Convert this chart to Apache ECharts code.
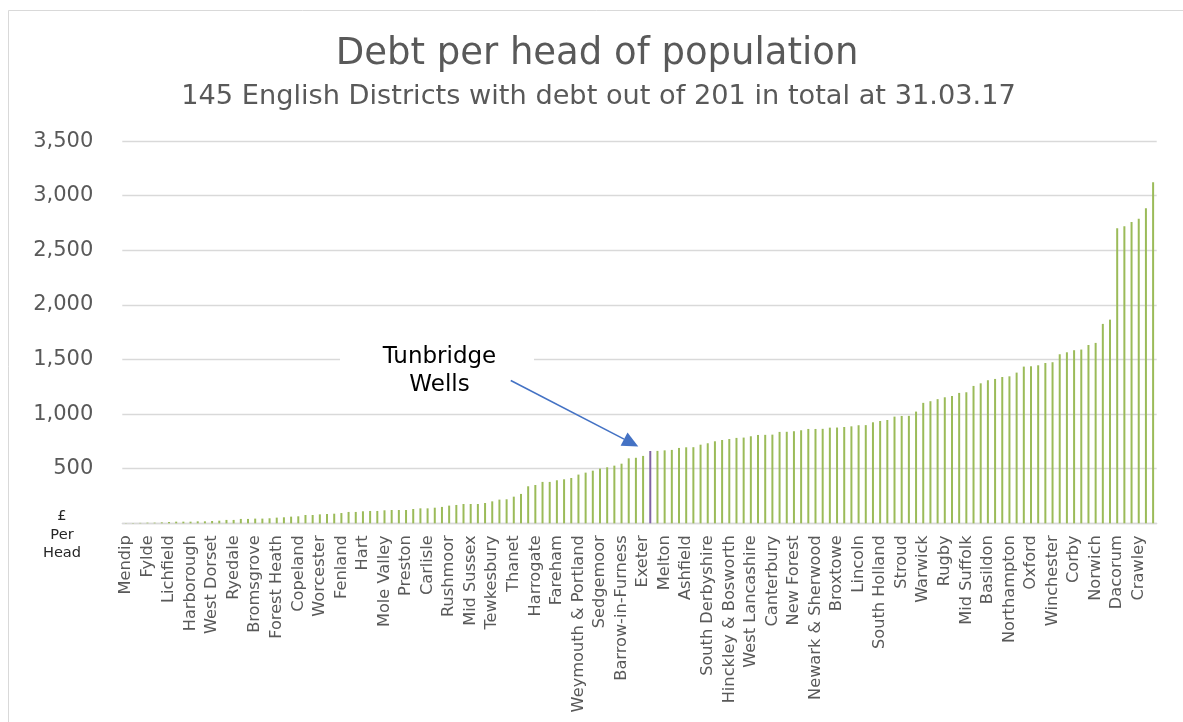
<!DOCTYPE html>
<html>
<head>
<meta charset="utf-8">
<script src="https://cdn.jsdelivr.net/npm/echarts@6/dist/echarts.min.js"></script>
<style>
  html, body { margin: 0; padding: 0; background: #ffffff; }
  #chart { width: 1183px; height: 722px; }
</style>
</head>
<body>
<div id="chart"></div>
<script>
// Districts named on the axis (every third district, in ascending order of debt)
const labelledDistricts = [
  'Mendip', 'Fylde', 'Lichfield', 'Harborough', 'West Dorset', 'Ryedale',
  'Bromsgrove', 'Forest Heath', 'Copeland', 'Worcester', 'Fenland', 'Hart',
  'Mole Valley', 'Preston', 'Carlisle', 'Rushmoor', 'Mid Sussex', 'Tewkesbury',
  'Thanet', 'Harrogate', 'Fareham', 'Weymouth & Portland', 'Sedgemoor', 'Barrow-in-Furness',
  'Exeter', 'Melton', 'Ashfield', 'South Derbyshire', 'Hinckley & Bosworth', 'West Lancashire',
  'Canterbury', 'New Forest', 'Newark & Sherwood', 'Broxtowe', 'Lincoln', 'South Holland',
  'Stroud', 'Warwick', 'Rugby', 'Mid Suffolk', 'Basildon', 'Northampton',
  'Oxford', 'Winchester', 'Corby', 'Norwich', 'Dacorum', 'Crawley'
];

// Debt per head (£) for each district, sorted ascending
const debtPerHead = [
  2, 3, 4, 6, 6, 9, 12, 15, 15, 15, 18, 18,
  21, 24, 31, 31, 40, 40, 43, 43, 46, 52, 55, 61,
  64, 76, 76, 82, 85, 88, 94, 104, 104, 110, 113, 113,
  119, 122, 122, 122, 131, 137, 137, 143, 150, 162, 168, 177,
  177, 177, 186, 201, 217, 220, 244, 269, 339, 351, 379, 379,
  394, 403, 415, 446, 464, 482, 501, 513, 528, 546, 595, 600,
  617, 662, 663, 668, 672, 690, 696, 697, 720, 733, 751, 763,
  772, 782, 785, 797, 809, 810, 812, 837, 838, 843, 852, 864,
  864, 865, 876, 877, 882, 888, 898, 899, 925, 937, 946, 977,
  983, 984, 1023, 1103, 1118, 1137, 1154, 1166, 1194, 1200, 1258, 1282,
  1310, 1322, 1340, 1346, 1380, 1435, 1438, 1447, 1468, 1475, 1548, 1566,
  1585, 1591, 1633, 1652, 1826, 1865, 2702, 2720, 2760, 2790, 2885, 3123
];

// The highlighted district
const highlightName = 'Tunbridge Wells';
const highlightIndex = 73;

const titleText = 'Debt per head of population';
const subtitleText = '145 English Districts with debt out of 201 in total at 31.03.17';
const unitLines = ['£', 'Per', 'Head'];

const yMin = 0, yMax = 3500, yStep = 500;

// Category list: every third slot carries an axis name, the rest stay blank
const categories = debtPerHead.map((_, i) => {
  if (i === highlightIndex) return highlightName;
  return i % 3 === 0 ? labelledDistricts[i / 3] : '';
});

const GREEN = '#9BBB59';
const PURPLE = '#8064A2';
const ARROW = '#4472C4';
const FONT = "'DejaVu Sans', Verdana, sans-serif";

const barData = debtPerHead.map((v, i) => (
  i === highlightIndex
    ? { value: v, itemStyle: { color: PURPLE } }
    : v
));

// Frame, titles and unit note
const staticGraphics = [
  {
    type: 'rect',
    shape: { x: 8.5, y: 10.5, width: 1300, height: 900 },
    style: { fill: 'none', stroke: '#d9d9d9', lineWidth: 1 },
    silent: true
  },
  {
    type: 'text',
    x: 597, y: 54,
    style: {
      text: titleText, fontSize: 37, fill: '#595959', fontFamily: FONT,
      textAlign: 'center', textVerticalAlign: 'middle'
    }
  },
  {
    type: 'text',
    x: 598.5, y: 97,
    style: {
      text: subtitleText, fontSize: 27.2, fill: '#595959', fontFamily: FONT,
      textAlign: 'center', textVerticalAlign: 'middle'
    }
  },
  {
    type: 'text',
    x: 62, y: 535,
    style: {
      text: unitLines.join('\n'), fontSize: 14.6, lineHeight: 18.5,
      fill: '#262626', fontFamily: FONT,
      textAlign: 'center', textVerticalAlign: 'middle'
    }
  }
];

const chart = echarts.init(document.getElementById('chart'), null, { renderer: 'canvas' });

chart.setOption({
  backgroundColor: '#ffffff',
  animation: false,
  textStyle: { fontFamily: FONT },
  grid: { left: 122.3, right: 26.3, top: 141.1, bottom: 198.7, containLabel: false },
  xAxis: {
    type: 'category',
    data: categories,
    boundaryGap: true,
    axisLine: { show: true, lineStyle: { color: '#d9d9d9', width: 1.3 } },
    axisTick: { show: false },
    axisLabel: {
      interval: 2,
      rotate: 90,
      margin: 12,
      fontSize: 16.2,
      color: '#595959',
      fontFamily: FONT
    },
    splitLine: { show: false }
  },
  yAxis: {
    type: 'value',
    min: yMin,
    max: yMax,
    interval: yStep,
    axisLine: { show: false },
    axisTick: { show: false },
    axisLabel: {
      margin: 29,
      fontSize: 21,
      color: '#595959',
      fontFamily: FONT,
      formatter: v => (v === 0 ? '' : v.toLocaleString('en-GB'))
    },
    splitLine: { show: true, lineStyle: { color: '#d9d9d9', width: 1.3 } }
  },
  series: [{
    type: 'bar',
    data: barData,
    barWidth: 2,
    itemStyle: { color: GREEN },
    silent: true
  }],
  graphic: staticGraphics
});

// Callout pointing at the highlighted bar, placed from the bar's own pixel position
const barTop = chart.convertToPixel({ xAxisIndex: 0, yAxisIndex: 0 },
  [highlightIndex, debtPerHead[highlightIndex]]);
const tip = [barTop[0] - 12, barTop[1] - 4.5];
const tail = [barTop[0] - 139.5, barTop[1] - 70.5];
const ang = Math.atan2(tip[1] - tail[1], tip[0] - tail[0]);
const headLen = 16, headHalf = 7.5;
const headBase = [tip[0] - headLen * Math.cos(ang), tip[1] - headLen * Math.sin(ang)];
const nx = -Math.sin(ang), ny = Math.cos(ang);

const calloutGraphics = [
  {
    type: 'rect',
    shape: { x: 340, y: 337, width: 194, height: 66 },
    style: { fill: '#ffffff' },
    z: 50, silent: true
  },
  {
    type: 'text',
    x: 439.5, y: 371,
    style: {
      text: highlightName.replace(' ', '\n'), fontSize: 23, lineHeight: 28.5,
      fill: '#000000', fontFamily: FONT,
      textAlign: 'center', textVerticalAlign: 'middle'
    },
    z: 51
  },
  {
    type: 'line',
    shape: { x1: tail[0], y1: tail[1], x2: headBase[0], y2: headBase[1] },
    style: { stroke: ARROW, lineWidth: 1.6 },
    z: 52, silent: true
  },
  {
    type: 'polygon',
    shape: {
      points: [
        tip,
        [headBase[0] + nx * headHalf, headBase[1] + ny * headHalf],
        [headBase[0] - nx * headHalf, headBase[1] - ny * headHalf]
      ]
    },
    style: { fill: ARROW },
    z: 52, silent: true
  }
];

chart.setOption({ graphic: staticGraphics.concat(calloutGraphics) });
</script>
</body>
</html>
